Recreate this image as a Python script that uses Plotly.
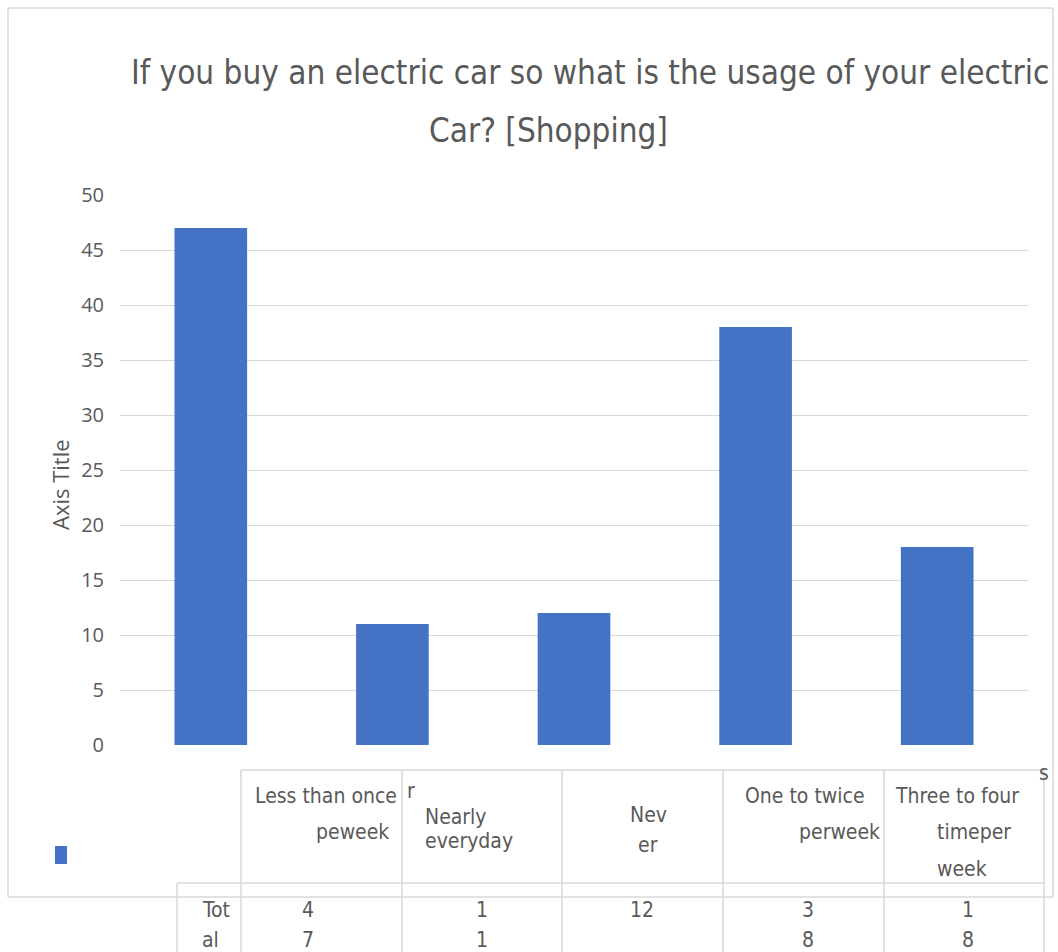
import plotly.graph_objects as go

# ---- data ----
categories = ["Less than once per week", "Nearly everyday", "Never",
              "One to twice per week", "Three to four times per week"]
values = [47, 11, 12, 38, 18]
y_ticks = [0, 5, 10, 15, 20, 25, 30, 35, 40, 45, 50]
title_lines = ["If you buy an electric car so what is the usage of your electric",
               "Car? [Shopping]"]
y_axis_title = "Axis Title"
table_row_label = ["Tot", "al"]
table_value_text = [["4", "7"], ["1", "1"], ["12"], ["3", "8"], ["1", "8"]]

BAR = "#4472C4"
GRID = "#D9D9D9"
TXT = "#595959"
NARROW = "Liberation Sans Narrow, Arial Narrow, DejaVu Sans Condensed, sans-serif"
UI = "Open Sans, Noto Sans, sans-serif"

W, H = 1058, 952
L, R, T, B = 120, 1028, 195, 745  # plot area in pixels


def px(x):
    return (x - L) / (R - L)


def py(y):
    return (B - y) / (B - T)


fig = go.Figure(go.Bar(x=categories, y=values, marker_color=BAR,
                       marker_line_width=0, width=0.4))

shapes = []


def line(x0, y0, x1, y1, color=GRID, w=1.5):
    shapes.append(dict(type="line", xref="paper", yref="paper",
                       x0=px(x0), y0=py(y0), x1=px(x1), y1=py(y1),
                       line=dict(color=color, width=w)))


# chart border
line(8, 8, 1053, 8)
line(8, 8, 8, 897)
line(1053, 8, 1053, 897)
line(8, 897, 1053, 897)
# data table
line(241, 770, 1044, 770)
for xv in [241, 402, 562, 723, 884, 1044]:
    line(xv, 770, xv, 952)
line(177, 883, 1044, 883)
line(177, 883, 177, 952)
# legend key
shapes.append(dict(type="rect", xref="paper", yref="paper",
                   x0=px(55), x1=px(67), y0=py(864), y1=py(846),
                   fillcolor=BAR, line_width=0))

annotations = []


def text(t, x, y, anchor="left", size=21, fam=NARROW, angle=0):
    annotations.append(dict(text=t, x=px(x), y=py(y), xref="paper", yref="paper",
                            xanchor=anchor, yanchor="middle", showarrow=False,
                            textangle=angle,
                            font=dict(family=fam, size=size, color=TXT)))


# title
text(title_lines[0], 129, 72, "left", 33)
text(title_lines[1], 548, 130, "center", 33)
# axis title
text(y_axis_title, 60, 485, "center", 22, UI, -90)

# table header cells (wrapped as in the original)
text("Less than once", 253, 796)
text("r", 405, 791)
text("peweek", 391, 832, "right")
text("Nearly", 423, 817)
text("everyday", 423, 841)
text("Nev", 648, 815, "center")
text("er", 648, 845, "center")
text("One to twice", 743, 796)
text("perweek", 882, 832, "right")
text("Three to four", 893, 796)
text("timeper", 935, 832)
text("week", 935, 869)
text("s", 1037, 773)

# table row
text(table_row_label[0], 200, 910)
text(table_row_label[1], 200, 940)
val_x = [308, 482, 642, 808, 968]
for xv, lines in zip(val_x, table_value_text):
    for i, s in enumerate(lines):
        text(s, xv, 910 + 30 * i, "center")

fig.update_layout(
    width=W, height=H,
    margin=dict(l=L, r=W - R, t=T, b=H - B, pad=0),
    plot_bgcolor="white", paper_bgcolor="white",
    showlegend=False,
    shapes=shapes, annotations=annotations,
    bargap=0.6,
)
fig.update_xaxes(showticklabels=False, showgrid=False, zeroline=False,
                 showline=False, ticks="", range=[-0.5, 4.5])
fig.update_yaxes(range=[0, 50], tickvals=y_ticks, showgrid=True, gridcolor=GRID,
                 gridwidth=1.2, zeroline=False, showline=False, ticks="",
                 ticklabelstandoff=15,
                 tickfont=dict(family=UI, size=20, color=TXT))

fig.write_html("out.html")
